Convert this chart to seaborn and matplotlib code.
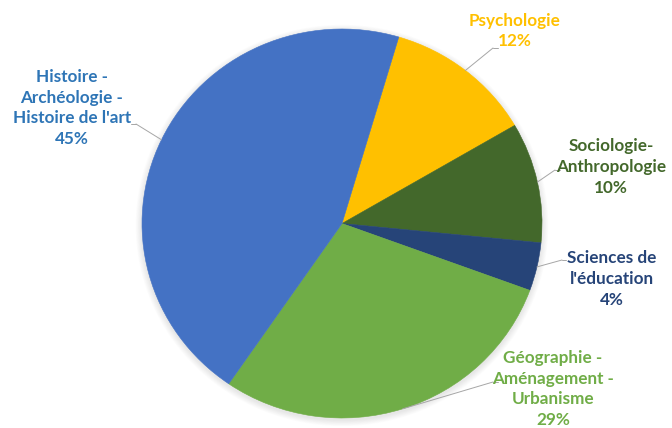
import numpy as np
import matplotlib
matplotlib.use("Agg")
import matplotlib.pyplot as plt
from matplotlib.patches import Ellipse
import seaborn as sns

# Répartition par discipline (ordre horaire à partir du haut)
disciplines = [
    "Psychologie",
    "Sociologie-\nAnthropologie",
    "Sciences de\nl'éducation",
    "Géographie -\nAménagement -\nUrbanisme",
    "Histoire -\nArchéologie -\nHistoire de l'art",
]
parts = [12, 10, 4, 29, 45]
slice_colors = ["#FFC000", "#43682B", "#264478", "#70AD47", "#4472C4"]
label_colors = ["#FFC000", "#43682B", "#264478", "#70AD47", "#2E75B6"]

sns.set_theme(style="white")
plt.rcParams["font.family"] = ["Lato", "DejaVu Sans"]

W, H = 672, 428
fig = plt.figure(figsize=(W / 100, H / 100), dpi=100)
ax = fig.add_axes([0, 0, 1, 1])

# pie geometry in pixels
cx, cy = 342, 223.5
rx, ry = 200, 194.5

def px(x, y):
    """pixel position (from top-left) -> figure fraction"""
    return (x / W, 1 - y / H)

# soft shadow behind the pie
for k in range(8):
    grow = 1 + 0.004 * (k + 1)
    ax.add_patch(Ellipse((0, -0.01), 2 * grow, 2 * grow, facecolor="black",
                         edgecolor="none", alpha=0.012, zorder=0))

wedges, _ = ax.pie(parts, colors=slice_colors, startangle=90 - 16.5,
                   counterclock=False, radius=1,
                   wedgeprops=dict(linewidth=0))
for w in wedges:
    w.set_zorder(2)
    w.set_edgecolor(w.get_facecolor())
    w.set_linewidth(0.4)

ax.set_aspect("auto")
ax.set_xlim(-cx / rx, (W - cx) / rx)
ax.set_ylim(-(H - cy) / ry, cy / ry)
ax.axis("off")

# label block centres, leader knee and text-side end (pixels)
label_pos = [(515, 31), (611, 167), (612, 279), (553, 389), (72, 108)]
knees = [(493, 48), (555, 170), (562, 260), (493, 382), (136, 124)]
ends = [(498, 48), (560, 170), (566, 260), (498, 382), (131, 124)]

for w, name, val, col, lp, kn, en in zip(wedges, disciplines, parts,
                                         label_colors, label_pos, knees, ends):
    mid = np.deg2rad((w.theta1 + w.theta2) / 2)
    edge = (np.cos(mid), np.sin(mid))
    ax.annotate("", xy=edge, xycoords="data", xytext=px(*kn),
                textcoords="figure fraction",
                arrowprops=dict(arrowstyle="-", color="#A6A6A6", lw=0.7,
                                shrinkA=0, shrinkB=0))
    ax.plot([kn[0] / W, en[0] / W], [1 - kn[1] / H, 1 - en[1] / H],
            color="#A6A6A6", lw=0.7, transform=fig.transFigure,
            clip_on=False)
    fig.text(*px(*lp), f"{name}\n{val}%", color=col, fontsize=12.3,
             fontweight="bold", ha="center", va="center",
             linespacing=1.35)

fig.savefig("out.png", dpi=100, facecolor="white")
